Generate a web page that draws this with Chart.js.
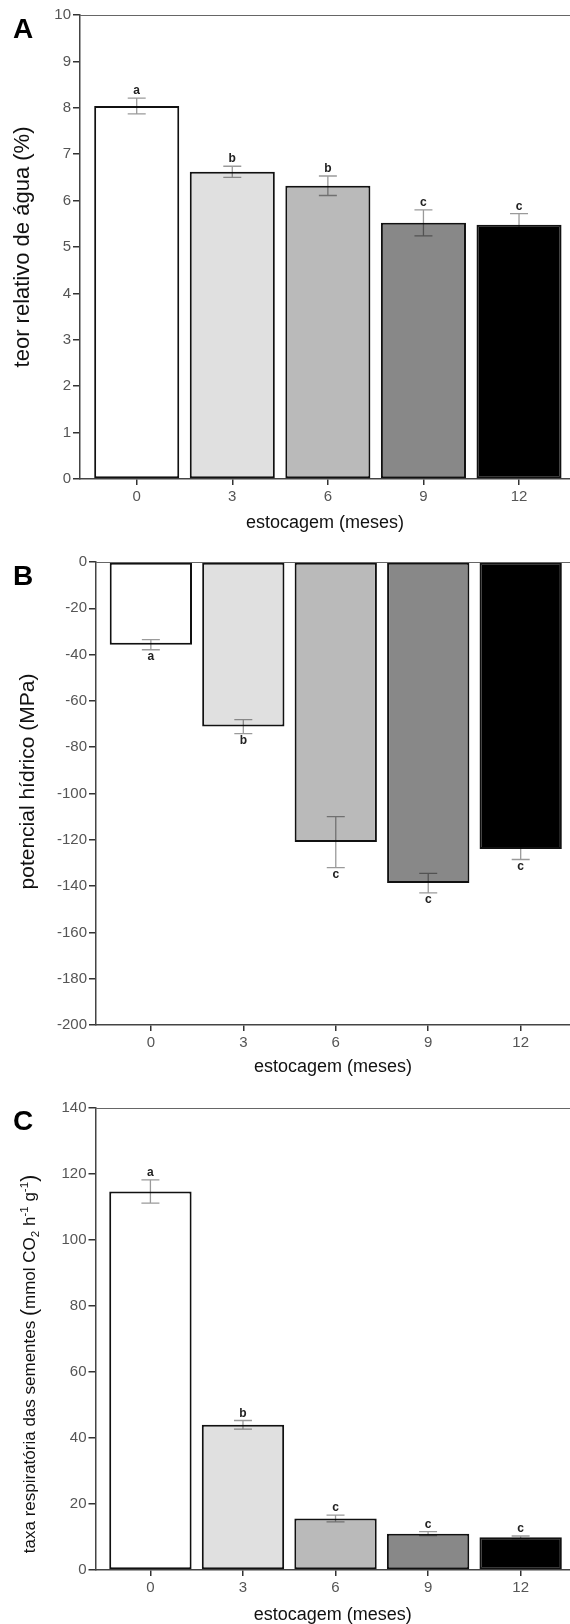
<!DOCTYPE html>
<html>
<head>
<meta charset="utf-8">
<script src="https://cdn.jsdelivr.net/npm/chart.js@4/dist/chart.umd.min.js"></script>
<style>
  body { margin: 0; background: #fff; width: 570px; height: 1624px; position: relative; overflow: hidden; }
  .panel { position: absolute; left: 0; width: 570px; }
  .tag { position: absolute; left: 13px; font: bold 28px "Liberation Sans", Arial, sans-serif; color: #000; line-height: 1; }
</style>
</head>
<body>
<div class="panel" style="top:0;height:545px"><canvas id="chartA"></canvas></div>
<div class="panel" style="top:545px;height:545px"><canvas id="chartB"></canvas></div>
<div class="panel" style="top:1090px;height:534px"><canvas id="chartC"></canvas></div>
<div class="tag" style="top:15px">A</div>
<div class="tag" style="top:562px">B</div>
<div class="tag" style="top:1107px">C</div>
<script>
// storage time (months)
const months = [0, 3, 6, 9, 12];
const barColors = ["#ffffff", "#e0e0e0", "#bababa", "#888888", "#000000"];

// A - relative water content (%)
const teorAgua = [8.04, 6.62, 6.32, 5.52, 5.48];
const teorAguaErr = [0.17, 0.12, 0.21, 0.28, 0.24];
const teorAguaLetras = ["a", "b", "b", "c", "c"];

// B - water potential (MPa)
const potencial = [-35.7, -71.1, -121.0, -138.7, -124.0];
const potencialErr = [2.2, 3.0, 11.0, 4.2, 4.5];
const potencialLetras = ["a", "b", "c", "c", "c"];

// C - respiration rate
const respiracao = [114.7, 44.0, 15.6, 11.0, 9.9];
const respiracaoErr = [3.5, 1.3, 1.0, 0.6, 0.4];
const respiracaoLetras = ["a", "b", "c", "c", "c"];

// y titles (C has sub/superscripts)
const tituloB = [{ t: "potencial hídrico (MPa)", k: "n" }];
const tituloC = [
  { t: "taxa respiratória das sementes ", k: "n" },
  { t: "(", k: "p" },
  { t: "mmol CO", k: "n" },
  { t: "2", k: "sub" },
  { t: " h", k: "n" },
  { t: "-1", k: "sup" },
  { t: " g", k: "n" },
  { t: "-1", k: "sup" },
  { t: ")", k: "p" },
];

const FONT = '"Liberation Sans", Arial, sans-serif';
Chart.defaults.font.family = FONT;

const TOP_LINE_PLUGIN = {
  id: "topLine",
  afterDraw: (chart) => {
    const { ctx, chartArea } = chart;
    ctx.save();
    ctx.beginPath();
    ctx.moveTo(chartArea.left, chartArea.top + 0.5);
    ctx.lineTo(chartArea.right, chartArea.top + 0.5);
    ctx.lineWidth = 1;
    ctx.strokeStyle = "#666";
    ctx.stroke();
    ctx.restore();
  },
};

const ERROR_BAR_PLUGIN = {
  id: "errorBars",
  afterDatasetsDraw: (chart, args, opts) => {
    const { ctx } = chart;
    const x = chart.scales.x;
    const y = chart.scales.y;
    const values = chart.data.datasets[0].data;
    ctx.save();
    values.forEach((pt, i) => {
      const err = opts.errors[i];
      const px = x.getPixelForValue(pt.x);
      const hi = y.getPixelForValue(pt.y + err);
      const lo = y.getPixelForValue(pt.y - err);
      // multiply: grey on white, darker over the grey bars
      ctx.globalCompositeOperation = "multiply";
      ctx.strokeStyle = "#9a9a9a";
      ctx.lineWidth = 1.3;
      ctx.beginPath();
      ctx.moveTo(px, hi);
      ctx.lineTo(px, lo);
      ctx.moveTo(px - 9, hi);
      ctx.lineTo(px + 9, hi);
      ctx.moveTo(px - 9, lo);
      ctx.lineTo(px + 9, lo);
      ctx.stroke();

      ctx.globalCompositeOperation = "source-over";
      ctx.fillStyle = "#222";
      ctx.font = "bold 12px " + FONT;
      ctx.textAlign = "center";
      if (opts.below) {
        ctx.textBaseline = "top";
        ctx.fillText(opts.letters[i], px, lo + 1);
      } else {
        ctx.textBaseline = "alphabetic";
        ctx.fillText(opts.letters[i], px, hi - 4);
      }
    });
    ctx.restore();
  },
};

const RICH_Y_TITLE_PLUGIN = {
  id: "richTitle",
  afterDraw: (chart, args, opts) => {
    if (!opts.parts) return;
    const { ctx, chartArea } = chart;
    const size = opts.size;
    const fontFor = (k) =>
      (k === "sub" || k === "sup" ? size * 0.68 : k === "p" ? size * 1.25 : size) + "px " + FONT;
    ctx.save();
    let total = 0;
    opts.parts.forEach((p) => {
      ctx.font = fontFor(p.k);
      total += ctx.measureText(p.t).width;
    });
    const cy = (chartArea.top + chartArea.bottom) / 2 + opts.shift;
    ctx.translate(opts.x, cy);
    ctx.rotate(-Math.PI / 2);
    ctx.fillStyle = "#111";
    ctx.textBaseline = "alphabetic";
    ctx.textAlign = "left";
    let cx = -total / 2;
    const base = size * 0.36;
    opts.parts.forEach((p) => {
      ctx.font = fontFor(p.k);
      let dy = base;
      if (p.k === "sub") dy = base + size * 0.22;
      if (p.k === "sup") dy = base - size * 0.42;
      if (p.k === "p") dy = base + size * 0.08;
      ctx.fillText(p.t, cx, dy);
      cx += ctx.measureText(p.t).width;
    });
    ctx.restore();
  },
};

function makeChart(id, cfg) {
  const data = {
    datasets: [
      {
        data: months.map((m, i) => ({ x: m, y: cfg.values[i] })),
        backgroundColor: barColors,
        borderColor: "#111",
        borderWidth: 2,
        borderSkipped: false,
        categoryPercentage: 1,
        barPercentage: 0.89,
      },
    ],
  };
  return new Chart(document.getElementById(id), {
    type: "bar",
    data,
    options: {
      responsive: true,
      maintainAspectRatio: false,
      animation: false,
      layout: { padding: { top: cfg.padTop, right: 0, left: 0, bottom: 0 } },
      plugins: {
        legend: { display: false },
        tooltip: { enabled: false },
        errorBars: { errors: cfg.errors, letters: cfg.letters, below: cfg.below },
        richTitle: cfg.richTitle || {},
      },
      scales: {
        x: {
          type: "linear",
          min: -1.78,
          max: 13.6,
          offset: false,
          afterBuildTicks: (scale) => {
            scale.ticks = months.map((v) => ({ value: v }));
          },
          afterFit: (scale) => {
            scale.height = cfg.xHeight;
          },
          grid: { display: true, offset: false, drawOnChartArea: false, tickLength: 6, color: "#333", lineWidth: 1.5 },
          border: { display: true, color: "#444", width: 1.5 },
          ticks: { color: "#555", font: { size: 15 }, padding: 3, maxRotation: 0 },
          title: {
            display: true,
            text: "estocagem (meses)",
            color: "#111",
            font: { size: 18, lineHeight: 1 },
            padding: { top: 0, bottom: cfg.xTitlePad },
          },
        },
        y: {
          min: cfg.min,
          max: cfg.max,
          ticks: { stepSize: cfg.step, color: "#555", font: { size: 15 }, padding: 2 },
          afterFit: (scale) => {
            scale.width = cfg.yWidth;
          },
          grid: { display: true, drawOnChartArea: false, tickLength: 7, color: "#333", lineWidth: 1.5 },
          border: { display: true, color: "#444", width: 1.5 },
          title: {
            display: !!cfg.yTitle,
            text: cfg.yTitle,
            color: "#111",
            font: { size: cfg.yTitleSize, lineHeight: 1 },
            padding: { top: cfg.yTitlePad, bottom: 0 },
          },
        },
      },
    },
    plugins: [TOP_LINE_PLUGIN, ERROR_BAR_PLUGIN, RICH_Y_TITLE_PLUGIN],
  });
}

makeChart("chartA", {
  values: teorAgua, errors: teorAguaErr, letters: teorAguaLetras, below: false,
  min: 0, max: 10, step: 1,
  padTop: 15, xHeight: 66, xTitlePad: 12.5, yWidth: 80,
  yTitle: "teor relativo de água (%)", yTitleSize: 22, yTitlePad: 12,
});

makeChart("chartB", {
  values: potencial, errors: potencialErr, letters: potencialLetras, below: true,
  min: -200, max: 0, step: 20,
  padTop: 17, xHeight: 65, xTitlePad: 13.5, yWidth: 96,
  yTitle: "",
  richTitle: { parts: tituloB, size: 21, x: 26, shift: -12 },
});

makeChart("chartC", {
  values: respiracao, errors: respiracaoErr, letters: respiracaoLetras, below: false,
  min: 0, max: 140, step: 20,
  padTop: 18, xHeight: 54, xTitlePad: 0, yWidth: 95.5,
  yTitle: "",
  richTitle: { parts: tituloC, size: 17, x: 29, shift: 25 },
});
</script>
</body>
</html>
